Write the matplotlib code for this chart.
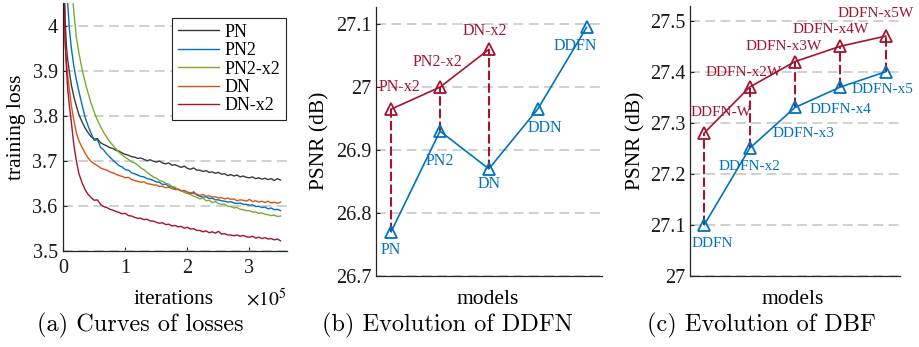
import matplotlib
matplotlib.use("Agg")
import matplotlib.pyplot as plt
import numpy as np

plt.rcParams['font.family'] = ['Liberation Serif', 'DejaVu Serif']
plt.rcParams['mathtext.fontset'] = 'stix'

# ---------------- data ----------------
iters_e5 = [0.01, 0.02, 0.03, 0.05, 0.07, 0.10, 0.13, 0.17, 0.21, 0.25, 0.30, 0.35, 0.40, 0.45,
            0.50, 0.55, 0.60, 0.65, 0.70, 0.75, 0.80, 0.85, 0.90, 0.95,
            1.00, 1.05, 1.10, 1.15, 1.20, 1.25, 1.30, 1.35, 1.40, 1.45,
            1.50, 1.55, 1.60, 1.65, 1.70, 1.75, 1.80, 1.85, 1.90, 1.95,
            2.00, 2.05, 2.10, 2.15, 2.20, 2.25, 2.30, 2.35, 2.40, 2.45,
            2.50, 2.55, 2.60, 2.65, 2.70, 2.75, 2.80, 2.85, 2.90, 2.95,
            3.00, 3.05, 3.10, 3.15, 3.20, 3.25, 3.30, 3.35, 3.40, 3.45, 3.50]

loss_PN = [4.15, 4.06, 4.01, 3.955, 3.925, 3.895, 3.868, 3.842, 3.822, 3.803, 3.787, 3.773, 3.762, 3.753,
           3.748, 3.749, 3.740, 3.736, 3.733, 3.729, 3.727, 3.723, 3.721, 3.717,
           3.714, 3.712, 3.709, 3.708, 3.705, 3.706, 3.703, 3.700, 3.702, 3.699,
           3.697, 3.699, 3.695, 3.693, 3.695, 3.690, 3.691, 3.688, 3.685, 3.688,
           3.683, 3.681, 3.684, 3.679, 3.679, 3.676, 3.678, 3.674, 3.675, 3.672,
           3.674, 3.670, 3.671, 3.667, 3.669, 3.666, 3.668, 3.664, 3.666, 3.663,
           3.662, 3.664, 3.660, 3.662, 3.659, 3.661, 3.658, 3.660, 3.656, 3.660, 3.657]

loss_PN2 = [4.35, 4.25, 4.18, 4.10, 4.05, 3.99, 3.95, 3.91, 3.88, 3.855, 3.825, 3.797, 3.777, 3.760,
            3.745, 3.747, 3.730, 3.724, 3.715, 3.708, 3.701, 3.695, 3.689, 3.686,
            3.680, 3.679, 3.673, 3.671, 3.668, 3.665, 3.664, 3.660, 3.659, 3.656,
            3.653, 3.652, 3.647, 3.648, 3.643, 3.642, 3.638, 3.637, 3.633, 3.634,
            3.630, 3.626, 3.631, 3.624, 3.621, 3.619, 3.620, 3.616, 3.617, 3.613,
            3.613, 3.611, 3.610, 3.608, 3.609, 3.606, 3.605, 3.606, 3.603, 3.603,
            3.601, 3.602, 3.598, 3.599, 3.596, 3.597, 3.593, 3.595, 3.591, 3.592, 3.589]

loss_PN2_x2 = [4.70, 4.60, 4.50, 4.38, 4.28, 4.18, 4.10, 4.03, 3.975, 3.94, 3.905, 3.875, 3.850, 3.827,
               3.807, 3.790, 3.776, 3.763, 3.752, 3.742, 3.734, 3.726, 3.718, 3.713,
               3.707, 3.703, 3.697, 3.695, 3.690, 3.684, 3.680, 3.674, 3.669, 3.664,
               3.661, 3.656, 3.654, 3.650, 3.648, 3.643, 3.641, 3.636, 3.634, 3.629,
               3.627, 3.625, 3.621, 3.619, 3.615, 3.617, 3.611, 3.612, 3.607, 3.609,
               3.605, 3.603, 3.603, 3.599, 3.598, 3.595, 3.596, 3.592, 3.591, 3.589,
               3.589, 3.586, 3.586, 3.583, 3.584, 3.581, 3.580, 3.578, 3.579, 3.576, 3.577]

loss_DN = [4.10, 4.00, 3.96, 3.92, 3.89, 3.855, 3.822, 3.79, 3.762, 3.745, 3.730, 3.717, 3.706, 3.698,
           3.693, 3.689, 3.684, 3.681, 3.679, 3.675, 3.673, 3.670, 3.667, 3.665,
           3.662, 3.663, 3.658, 3.656, 3.654, 3.652, 3.653, 3.649, 3.648, 3.646,
           3.646, 3.643, 3.643, 3.640, 3.641, 3.638, 3.636, 3.636, 3.633, 3.633,
           3.630, 3.629, 3.627, 3.626, 3.623, 3.625, 3.621, 3.622, 3.619, 3.620,
           3.617, 3.618, 3.615, 3.617, 3.614, 3.615, 3.611, 3.613, 3.612, 3.610,
           3.614, 3.609, 3.611, 3.608, 3.610, 3.607, 3.610, 3.606, 3.608, 3.605, 3.608]

loss_DN_x2 = [4.20, 4.05, 3.97, 3.905, 3.86, 3.82, 3.785, 3.735, 3.70, 3.672, 3.652, 3.636, 3.625, 3.618,
              3.612, 3.613, 3.603, 3.598, 3.596, 3.592, 3.590, 3.587, 3.585, 3.582,
              3.583, 3.578, 3.577, 3.574, 3.572, 3.572, 3.569, 3.570, 3.566, 3.566,
              3.563, 3.561, 3.562, 3.558, 3.559, 3.555, 3.556, 3.553, 3.554, 3.550,
              3.552, 3.548, 3.549, 3.545, 3.545, 3.542, 3.544, 3.540, 3.542, 3.539,
              3.543, 3.537, 3.538, 3.535, 3.535, 3.533, 3.535, 3.532, 3.534, 3.531,
              3.530, 3.532, 3.528, 3.530, 3.527, 3.529, 3.526, 3.527, 3.524, 3.526, 3.522]

series_names = ['PN', 'PN2', 'PN2-x2', 'DN', 'DN-x2']

# panel (b)
b_blue_labels = ['PN', 'PN2', 'DN', 'DDN', 'DDFN']
b_blue_psnr = [26.77, 26.93, 26.87, 26.965, 27.095]
b_red_labels = ['PN-x2', 'PN2-x2', 'DN-x2']
b_red_psnr = [26.965, 27.0, 27.06]

# panel (c)
c_blue_labels = ['DDFN', 'DDFN-x2', 'DDFN-x3', 'DDFN-x4', 'DDFN-x5']
c_blue_psnr = [27.10, 27.25, 27.33, 27.37, 27.40]
c_red_labels = ['DDFN-W', 'DDFN-x2W', 'DDFN-x3W', 'DDFN-x4W', 'DDFN-x5W']
c_red_psnr = [27.28, 27.37, 27.42, 27.45, 27.47]

# ---------------- style ----------------
BLUE = '#0072BD'
RED = '#A2142F'
line_colors = ['#3a3a3a', '#0072BD', '#77AC30', '#D95319', '#A2142F']
SPINE = '#262626'
GRID = '#c4c4c4'
TICKFS = 14.5
LABFS = 15.5

W, H = 919, 347
fig = plt.figure(figsize=(W / 100, H / 100), dpi=100)


def px_axes(l, t, r, b):
    return fig.add_axes([l / W, 1 - b / H, (r - l) / W, (b - t) / H])


def style_axes(ax):
    for s in ['top', 'right']:
        ax.spines[s].set_visible(False)
    for s in ['left', 'bottom']:
        ax.spines[s].set_color(SPINE)
        ax.spines[s].set_linewidth(0.9)
    ax.tick_params(direction='in', length=3, width=0.8, color=SPINE,
                   labelsize=TICKFS, labelcolor='#1a1a1a')
    ax.yaxis.grid(True, color=GRID, linestyle=(0, (6.5, 3.5)), linewidth=1.1)
    ax.set_axisbelow(True)


# ---------------- panel (a) ----------------
axa = px_axes(63.3, 3.2, 286.7, 250.7)
style_axes(axa)
all_losses = [loss_PN, loss_PN2, loss_PN2_x2, loss_DN, loss_DN_x2]
for name, vals, col in zip(series_names, all_losses, line_colors):
    axa.plot(iters_e5, vals, color=col, lw=1.0, label=name)
axa.set_xlim(0, 3.6)
axa.set_ylim(3.5, 4.05)
axa.set_xticks([0, 1, 2, 3])
axa.set_xticklabels(['0', '1', '2', '3'])
axa.set_yticks([3.5, 3.6, 3.7, 3.8, 3.9, 4.0])
axa.set_yticklabels(['3.5', '3.6', '3.7', '3.8', '3.9', '4'])
axa.tick_params(axis='x', pad=6)
axa.tick_params(axis='y', pad=4)
axa.set_ylabel('training loss', fontsize=LABFS)
axa.yaxis.set_label_coords(-0.165, 0.5)
leg = axa.legend(loc='upper right', bbox_to_anchor=(0.9955, 0.939), fontsize=13,
                 frameon=True, fancybox=False, edgecolor='#222222', framealpha=1,
                 handlelength=2.3, handletextpad=0.3, labelspacing=0.08,
                 borderpad=0.3, borderaxespad=0)
leg.get_frame().set_linewidth(0.8)
fig.text(174 / W, 1 - 304 / H, 'iterations', fontsize=LABFS, ha='center', va='baseline')
fig.text(246 / W, 1 - 306 / H, r'$\times10^{5}$', fontsize=14, ha='left', va='baseline')

# ---------------- panel (b) ----------------
axb = px_axes(376, 6.7, 601.7, 275.7)
style_axes(axb)
xb = np.arange(1, len(b_blue_psnr) + 1)
xb_red = xb[:len(b_red_psnr)]
axb.vlines(xb_red, b_blue_psnr[:len(b_red_psnr)], b_red_psnr, colors=RED,
           linestyles=(0, (4.5, 1.6)), linewidth=1.5, zorder=2)
axb.plot(xb, b_blue_psnr, color=BLUE, lw=1.2, marker='^', ms=8.5, mfc='none', mew=1.3, zorder=3)
axb.plot(xb_red, b_red_psnr, color=RED, lw=1.2, marker='^', ms=8.5, mfc='none', mew=1.3, zorder=3)
b_blue_off = [(0, -18), (0, -30), (0, -15), (7, -19), (-11, -19)]
b_red_off = [(8, 22), (-3, 25), (-4, 18)]
for x, y, t, o in zip(xb, b_blue_psnr, b_blue_labels, b_blue_off):
    axb.annotate(t, (x, y), xytext=o, textcoords='offset pixels', ha='center', va='center',
                 color=BLUE, fontsize=11.5)
for x, y, t, o in zip(xb_red, b_red_psnr, b_red_labels, b_red_off):
    axb.annotate(t, (x, y), xytext=o, textcoords='offset pixels', ha='center', va='center',
                 color=RED, fontsize=11.5)
axb.set_xlim(0.69, 5.31)
axb.set_ylim(26.7, 27.128)
axb.set_xticks([])
axb.set_yticks([26.7, 26.8, 26.9, 27.0, 27.1])
axb.set_yticklabels(['26.7', '26.8', '26.9', '27', '27.1'])
axb.tick_params(axis='y', pad=3)
axb.set_ylabel('PSNR (dB)', fontsize=LABFS)
axb.yaxis.set_label_coords(-0.208, 0.5)
fig.text(488 / W, 1 - 304 / H, 'models', fontsize=LABFS, ha='center', va='baseline')

# ---------------- panel (c) ----------------
axc = px_axes(690, 6, 900, 275.7)
style_axes(axc)
xc = np.arange(1, len(c_blue_psnr) + 1)
axc.vlines(xc, c_blue_psnr, c_red_psnr, colors=RED,
           linestyles=(0, (4.5, 1.6)), linewidth=1.5, zorder=2)
axc.plot(xc, c_blue_psnr, color=BLUE, lw=1.2, marker='^', ms=8.5, mfc='none', mew=1.3, zorder=3)
axc.plot(xc, c_red_psnr, color=RED, lw=1.2, marker='^', ms=8.5, mfc='none', mew=1.3, zorder=3)
c_blue_off = [(8, -19), (0, -18), (8, -26), (0, -22), (-3, -18)]
c_red_off = [(17, 20), (-6, 15), (-11, 15), (-10, 17), (-10, 23)]
for x, y, t, o in zip(xc, c_blue_psnr, c_blue_labels, c_blue_off):
    axc.annotate(t, (x, y), xytext=o, textcoords='offset pixels', ha='center', va='center',
                 color=BLUE, fontsize=11, annotation_clip=False)
for x, y, t, o in zip(xc, c_red_psnr, c_red_labels, c_red_off):
    axc.annotate(t, (x, y), xytext=o, textcoords='offset pixels', ha='center', va='center',
                 color=RED, fontsize=11, annotation_clip=False)
axc.set_xlim(0.684, 5.316)
axc.set_ylim(27.0, 27.529)
axc.set_xticks([])
axc.set_yticks([27.0, 27.1, 27.2, 27.3, 27.4, 27.5])
axc.set_yticklabels(['27', '27.1', '27.2', '27.3', '27.4', '27.5'])
axc.tick_params(axis='y', pad=3.5)
axc.set_ylabel('PSNR (dB)', fontsize=LABFS)
axc.yaxis.set_label_coords(-0.214, 0.5)
fig.text(793 / W, 1 - 304 / H, 'models', fontsize=LABFS, ha='center', va='baseline')

# ---------------- captions ----------------
capfs = 17.5
fig.text(140.5 / W, 1 - 331.7 / H, '(a) Curves of losses', family='cmr10', fontsize=capfs,
         ha='center', va='baseline')
fig.text(447.5 / W, 1 - 331.7 / H, '(b) Evolution of DDFN', family='cmr10', fontsize=capfs,
         ha='center', va='baseline')
fig.text(761 / W, 1 - 331.7 / H, '(c) Evolution of DBF', family='cmr10', fontsize=capfs,
         ha='center', va='baseline')

fig.savefig('out.png', dpi=100)
